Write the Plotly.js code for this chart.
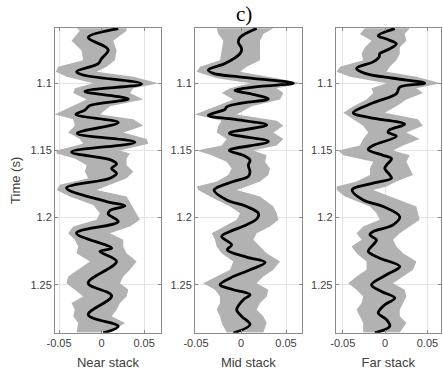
<!DOCTYPE html>
<html>
<head>
<meta charset="utf-8">
<script src="https://cdn.plot.ly/plotly-3.0.1.min.js"></script>
<style>
  html, body { margin: 0; padding: 0; background: #fff; }
  #chart { width: 443px; height: 377px; }
</style>
</head>
<body>
<div id="chart"></div>
<script>
// ---------- Data ----------
const panelNames = ['Near stack', 'Mid stack', 'Far stack'];
const tickX = [-0.05, 0, 0.05];
const tickXText = ['-0.05', '0', '0.05'];
const tickY = [1.1, 1.15, 1.2, 1.25];
const tickYText = ['1.1', '1.15', '1.2', '1.25'];

// Near stack: mean trace
const nearT = [1.0593,1.0659,1.0732,1.0756,1.0817,1.0854,1.0915,1.0939,1.1005,1.1061,1.1117,1.1166,1.1200,1.1232,1.1293,1.1373,1.1439,1.1512,1.1573,1.1602,1.1634,1.1671,1.1707,1.1780,1.1881,1.1913,1.1948,1.1973,1.2030,1.2116,1.2228,1.2252,1.2327,1.2488,1.2582,1.2723,1.2809,1.2859];
const nearX = [0.0196,-0.0157,0.0051,0.0078,0.0000,-0.0039,-0.0294,-0.0216,0.0471,-0.0196,0.0314,-0.0137,-0.0196,-0.0302,0.0196,-0.0286,0.0392,-0.0353,0.0118,0.0176,0.0118,0.0176,0.0098,-0.0412,0.0059,0.0275,0.0098,0.0078,0.0196,-0.0294,0.0118,-0.0020,0.0176,-0.0157,0.0118,-0.0157,0.0196,0.0020];
// Near stack: envelope
const nearBandT = [1.0590,1.0610,1.0683,1.0756,1.0829,1.0878,1.0915,1.0951,1.1000,1.1037,1.1073,1.1122,1.1171,1.1232,1.1268,1.1317,1.1366,1.1415,1.1451,1.1500,1.1524,1.1561,1.1610,1.1659,1.1707,1.1756,1.1795,1.1844,1.1906,1.1968,1.2017,1.2067,1.2116,1.2166,1.2215,1.2265,1.2327,1.2389,1.2438,1.2488,1.2537,1.2587,1.2636,1.2686,1.2735,1.2785,1.2856];
const nearLo = [-0.0294,-0.0255,-0.0353,-0.0235,-0.0216,-0.0510,-0.0537,-0.0412,-0.0098,-0.0314,-0.0333,-0.0176,-0.0353,-0.0549,-0.0333,-0.0314,-0.0392,-0.0255,-0.0216,-0.0529,-0.0529,-0.0314,-0.0176,-0.0196,-0.0157,-0.0490,-0.0529,-0.0373,-0.0098,-0.0020,-0.0059,-0.0333,-0.0392,-0.0314,-0.0275,-0.0294,-0.0137,-0.0275,-0.0392,-0.0412,-0.0314,-0.0216,-0.0353,-0.0314,-0.0333,-0.0275,-0.0294];
const nearHi = [0.0294,0.0294,0.0137,0.0176,0.0157,0.0059,-0.0059,0.0373,0.0667,0.0373,0.0333,0.0490,0.0098,-0.0020,0.0373,0.0490,0.0255,0.0529,0.0549,0.0216,0.0333,0.0294,0.0294,0.0373,0.0294,0.0098,-0.0059,0.0294,0.0353,0.0412,0.0451,0.0333,0.0098,0.0255,0.0255,0.0294,0.0412,0.0333,0.0255,0.0216,0.0314,0.0294,0.0216,0.0176,0.0118,0.0275,0.0098];

// Mid stack: mean trace
const midT = [1.0593,1.0659,1.0695,1.0744,1.0780,1.0854,1.0902,1.0927,1.0956,1.1000,1.1024,1.1054,1.1078,1.1117,1.1146,1.1176,1.1195,1.1239,1.1268,1.1312,1.1373,1.1434,1.1500,1.1537,1.1573,1.1610,1.1659,1.1695,1.1732,1.1795,1.1869,1.1918,1.1968,1.2005,1.2054,1.2104,1.2141,1.2203,1.2240,1.2295,1.2334,1.2389,1.2451,1.2500,1.2537,1.2574,1.2611,1.2686,1.2735,1.2797,1.2859];
const midX = [0.0174,-0.0011,-0.0030,0.0007,-0.0011,-0.0178,-0.0363,-0.0307,0.0026,0.0581,0.0211,-0.0067,0.0100,0.0304,0.0026,-0.0159,-0.0178,-0.0363,-0.0085,0.0285,-0.0130,0.0304,-0.0130,0.0026,0.0100,0.0081,0.0100,0.0081,-0.0085,-0.0300,-0.0159,0.0063,0.0193,0.0181,0.0063,-0.0122,-0.0215,-0.0104,-0.0152,0.0063,0.0267,0.0100,-0.0122,-0.0233,-0.0085,0.0100,0.0026,-0.0048,0.0007,0.0100,-0.0085];
// Mid stack: envelope
const midBandT = [1.0590,1.0634,1.0683,1.0756,1.0829,1.0878,1.0915,1.0963,1.1000,1.1037,1.1073,1.1122,1.1171,1.1232,1.1280,1.1317,1.1366,1.1415,1.1463,1.1500,1.1537,1.1585,1.1634,1.1683,1.1732,1.1768,1.1795,1.1844,1.1918,1.1968,1.2017,1.2067,1.2116,1.2166,1.2215,1.2265,1.2327,1.2389,1.2438,1.2488,1.2537,1.2587,1.2636,1.2686,1.2735,1.2785,1.2856];
const midLo = [-0.0270,-0.0252,-0.0196,-0.0215,-0.0233,-0.0456,-0.0493,-0.0270,0.0100,-0.0122,-0.0215,-0.0085,-0.0270,-0.0511,-0.0215,-0.0252,-0.0270,-0.0159,-0.0215,-0.0493,-0.0326,-0.0159,-0.0104,-0.0141,-0.0270,-0.0493,-0.0474,-0.0344,-0.0122,-0.0011,-0.0048,-0.0196,-0.0326,-0.0289,-0.0270,-0.0215,-0.0085,-0.0122,-0.0270,-0.0419,-0.0289,-0.0233,-0.0233,-0.0270,-0.0233,-0.0215,-0.0159];
const midHi = [0.0359,0.0248,0.0211,0.0211,0.0211,0.0063,-0.0011,0.0396,0.0674,0.0396,0.0470,0.0433,0.0118,-0.0048,0.0396,0.0470,0.0359,0.0470,0.0396,0.0137,0.0285,0.0267,0.0322,0.0304,0.0211,0.0063,-0.0048,0.0211,0.0359,0.0396,0.0415,0.0322,0.0174,0.0137,0.0211,0.0285,0.0433,0.0359,0.0248,0.0174,0.0304,0.0285,0.0211,0.0174,0.0248,0.0285,0.0248];

// Far stack: mean trace
const farT = [1.0593,1.0646,1.0671,1.0707,1.0744,1.0780,1.0805,1.0841,1.0890,1.0927,1.0963,1.1000,1.1029,1.1078,1.1146,1.1220,1.1256,1.1305,1.1346,1.1366,1.1395,1.1463,1.1493,1.1537,1.1561,1.1610,1.1634,1.1683,1.1707,1.1744,1.1795,1.1869,1.1918,1.1993,1.2054,1.2104,1.2129,1.2166,1.2215,1.2252,1.2302,1.2364,1.2426,1.2500,1.2550,1.2599,1.2649,1.2710,1.2760,1.2809,1.2859];
const farX = [0.0114,-0.0082,0.0016,0.0133,0.0055,-0.0063,-0.0071,-0.0141,-0.0337,-0.0239,0.0094,0.0467,0.0173,0.0133,-0.0141,-0.0376,-0.0180,0.0231,0.0055,0.0035,0.0133,-0.0141,-0.0200,-0.0024,0.0075,0.0016,-0.0004,0.0055,0.0075,-0.0141,-0.0390,-0.0259,-0.0024,0.0173,0.0094,-0.0141,-0.0180,-0.0102,-0.0161,-0.0200,-0.0063,0.0173,0.0016,-0.0161,-0.0043,0.0114,-0.0004,-0.0082,0.0016,0.0055,-0.0122];
// Far stack: envelope
const farBandT = [1.0590,1.0634,1.0683,1.0732,1.0780,1.0829,1.0878,1.0915,1.0951,1.1000,1.1037,1.1073,1.1122,1.1171,1.1220,1.1268,1.1317,1.1366,1.1415,1.1463,1.1500,1.1537,1.1585,1.1634,1.1683,1.1732,1.1768,1.1795,1.1844,1.1918,1.1968,1.2017,1.2067,1.2116,1.2166,1.2215,1.2265,1.2327,1.2389,1.2438,1.2488,1.2537,1.2587,1.2636,1.2686,1.2735,1.2785,1.2856];
const farLo = [-0.0239,-0.0298,-0.0161,-0.0239,-0.0278,-0.0259,-0.0533,-0.0573,-0.0416,0.0016,-0.0161,-0.0141,-0.0220,-0.0376,-0.0494,-0.0376,-0.0259,-0.0200,-0.0259,-0.0298,-0.0553,-0.0494,-0.0141,-0.0180,-0.0180,-0.0337,-0.0573,-0.0573,-0.0475,-0.0180,-0.0102,-0.0063,-0.0259,-0.0337,-0.0278,-0.0396,-0.0337,-0.0220,-0.0220,-0.0337,-0.0435,-0.0337,-0.0259,-0.0278,-0.0337,-0.0298,-0.0259,-0.0259];
const farHi = [0.0290,0.0231,0.0251,0.0173,0.0173,0.0133,0.0055,0.0016,0.0369,0.0663,0.0369,0.0447,0.0251,0.0133,-0.0004,0.0388,0.0447,0.0251,0.0408,0.0212,0.0094,0.0290,0.0251,0.0290,0.0329,0.0133,0.0016,-0.0141,0.0055,0.0369,0.0388,0.0408,0.0290,0.0173,0.0094,0.0133,0.0212,0.0369,0.0329,0.0212,0.0094,0.0231,0.0251,0.0212,0.0173,0.0173,0.0251,0.0173];

// ---------- Build ----------
const panels = [
  {t: nearT, x: nearX, bt: nearBandT, lo: nearLo, hi: nearHi, range: [-0.0547, 0.0698], dom: [55/443, 161/443]},
  {t: midT,  x: midX,  bt: midBandT,  lo: midLo,  hi: midHi,  range: [-0.0511, 0.0674], dom: [195/443, 301.7/443]},
  {t: farT,  x: farX,  bt: farBandT,  lo: farLo,  hi: farHi,  range: [-0.0584, 0.0660], dom: [335.7/443, 441/443]}
];

const traces = [];
const layout = {
  width: 443, height: 377,
  margin: {l: 0, r: 0, t: 0, b: 0},
  paper_bgcolor: '#ffffff', plot_bgcolor: '#ffffff',
  showlegend: false,
  font: {family: 'Liberation Sans, Arial, sans-serif', size: 11, color: '#404040'},
  annotations: [{
    text: 'c)', xref: 'paper', yref: 'paper', x: 244/443, y: 1 - 14/377,
    xanchor: 'center', yanchor: 'middle', showarrow: false,
    font: {family: 'Liberation Serif, Times New Roman, serif', size: 21, color: '#000'}
  }]
};

panels.forEach((p, i) => {
  const n = i === 0 ? '' : String(i + 1);
  const xa = 'x' + n, ya = 'y' + n;
  traces.push({
    type: 'scatter', mode: 'lines', xaxis: xa, yaxis: ya,
    x: p.hi.concat(p.lo.slice().reverse()),
    y: p.bt.concat(p.bt.slice().reverse()),
    fill: 'toself', fillcolor: '#b2b2b2',
    line: {width: 0, color: '#b2b2b2'}, hoverinfo: 'skip'
  });
  traces.push({
    type: 'scatter', mode: 'lines', xaxis: xa, yaxis: ya,
    x: p.x, y: p.t,
    line: {color: '#000000', width: 2.8, shape: 'spline', smoothing: 1}
  });
  layout['xaxis' + n] = {
    domain: p.dom, range: p.range, anchor: ya,
    tickvals: tickX, ticktext: tickXText,
    ticks: 'inside', ticklen: 3, tickcolor: '#888',
    showline: true, linecolor: '#8a8a8a', linewidth: 1, mirror: 'ticks',
    showgrid: true, gridcolor: '#e4e4e4', gridwidth: 1, zeroline: false,
    tickfont: {size: 11, color: '#404040'},
    title: {text: panelNames[i], font: {size: 13, color: '#404040'}, standoff: 9}
  };
  layout['yaxis' + n] = {
    domain: [1 - 332.7/377, 1 - 28/377], range: [1.2857, 1.0589], anchor: xa,
    tickvals: tickY, ticktext: tickYText,
    ticks: 'inside', ticklen: 3, tickcolor: '#888',
    showline: true, linecolor: '#8a8a8a', linewidth: 1, mirror: 'ticks',
    showgrid: true, gridcolor: '#e4e4e4', gridwidth: 1, zeroline: false,
    tickfont: {size: 11, color: '#404040'}
  };
  if (i === 0) {
    layout['yaxis' + n].title = {text: 'Time (s)', font: {size: 13, color: '#404040'}, standoff: 6};
  }
});

Plotly.newPlot('chart', traces, layout, {staticPlot: true, displayModeBar: false});
</script>
</body>
</html>
